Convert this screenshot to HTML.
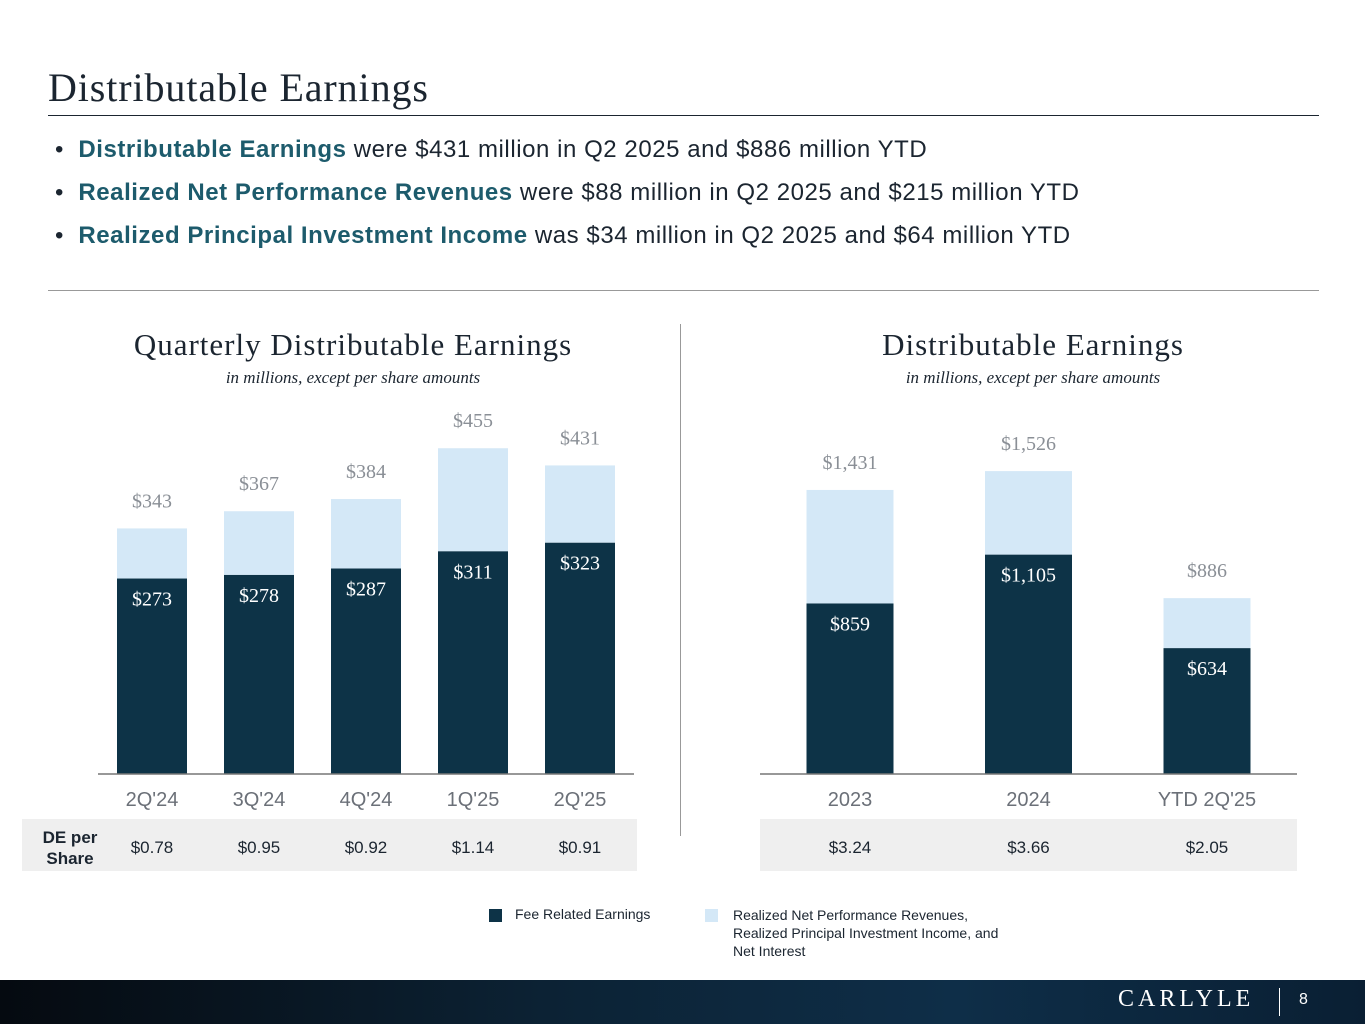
<!DOCTYPE html>
<html><head><meta charset="utf-8">
<style>
body{margin:0;width:1365px;height:1024px;background:#fff;position:relative;overflow:hidden;font-family:"Liberation Sans",sans-serif;}
.abs{position:absolute;}
.title{left:48px;top:64px;font-family:"Liberation Serif",serif;font-size:40px;letter-spacing:0.9px;color:#1b2530;}
.bul{left:55px;font-size:24px;letter-spacing:0.55px;color:#1b2530;}
.bul b{color:#1d5b6c;}
.ct{font-family:"Liberation Serif",serif;font-size:31px;letter-spacing:1px;color:#1b2530;text-align:center;width:600px;}
.sub{font-family:"Liberation Serif",serif;font-style:italic;font-size:17px;color:#1b2530;text-align:center;width:600px;}
</style></head><body>
<div class="abs title">Distributable Earnings</div>
<div class="abs" style="left:48px;top:115px;width:1271px;height:1px;background:#1b2530"></div>
<div class="abs bul" style="top:136px">• &nbsp;<b>Distributable Earnings</b> were $431 million in Q2 2025 and $886 million YTD</div>
<div class="abs bul" style="top:179px">• &nbsp;<b>Realized Net Performance Revenues</b> were $88 million in Q2 2025 and $215 million YTD</div>
<div class="abs bul" style="top:222px">• &nbsp;<b>Realized Principal Investment Income</b> was $34 million in Q2 2025 and $64 million YTD</div>
<div class="abs" style="left:48px;top:290px;width:1271px;height:1px;background:#999"></div>
<div class="abs" style="left:680px;top:324px;width:1px;height:512px;background:#999"></div>
<div class="abs ct" style="left:53px;top:327px">Quarterly Distributable Earnings</div>
<div class="abs sub" style="left:53px;top:368px">in millions, except per share amounts</div>
<div class="abs ct" style="left:733px;top:327px">Distributable Earnings</div>
<div class="abs sub" style="left:733px;top:368px">in millions, except per share amounts</div>
<div class="abs" style="left:22px;top:819px;width:615px;height:52px;background:#efefef"></div>
<div class="abs" style="left:760px;top:819px;width:537px;height:52px;background:#efefef"></div>
<div class="abs" style="left:30px;top:827px;width:80px;font-size:17px;font-weight:bold;text-align:center;line-height:21px;color:#1b2530">DE per Share</div>
<svg class="abs" style="left:0;top:0" width="1365" height="1024" id="chart"></svg>
<div class="abs" style="left:489px;top:909px;width:13px;height:13px;background:#0d3347"></div>
<div class="abs" style="left:515px;top:906px;font-size:14px;color:#1b2530">Fee Related Earnings</div>
<div class="abs" style="left:705px;top:909px;width:13px;height:13px;background:#d4e8f7"></div>
<div class="abs" style="left:733px;top:906px;font-size:14px;line-height:18px;color:#1b2530;width:300px">Realized Net Performance Revenues,<br>Realized Principal Investment Income, and<br>Net Interest</div>
<div class="abs" style="left:0;top:980px;width:1365px;height:44px;background:linear-gradient(90deg,#050a10,#0c2234 40%,#0e2e48 70%,#0a1f33)"></div>
<div class="abs" style="left:1118px;top:986px;font-family:'Liberation Serif',serif;font-size:24px;letter-spacing:4px;color:#fff">CARLYLE</div>
<div class="abs" style="left:1279px;top:988px;width:1px;height:28px;background:#fff"></div>
<div class="abs" style="left:1299px;top:991px;font-size:16px;color:#fff">8</div>
<script>
const qCats=["2Q'24","3Q'24","4Q'24","1Q'25","2Q'25"];
const qFre=[273,278,287,311,323];
const qTotal=[343,367,384,455,431];
const qDe=["$0.78","$0.95","$0.92","$1.14","$0.91"];
const yCats=["2023","2024","YTD 2Q'25"];
const yFre=[859,1105,634];
const yTotal=[1431,1526,886];
const yDe=["$3.24","$3.66","$2.05"];
const svg=document.getElementById('chart');const NS='http://www.w3.org/2000/svg';
function el(t,a,txt){const e=document.createElementNS(NS,t);for(const k in a)e.setAttribute(k,a[k]);if(txt!==undefined)e.textContent=txt;svg.appendChild(e);return e;}
const fmt=v=>'$'+v.toLocaleString('en-US');
function chart(cats,fre,tot,de,x0,step,bw,scale,ax0,ax1,pre){
 const base=774;const y=v=>base-v*scale;
 cats.forEach((c,i)=>{const cx=x0+i*step;
  let r=el('rect',{x:cx-bw/2,y:y(tot[i]),width:bw,height:(tot[i]-fre[i])*scale,fill:'#d4e8f7'});
  
  
  r=el('rect',{x:cx-bw/2,y:y(fre[i]),width:bw,height:fre[i]*scale,fill:'#0d3347'});
  
  
  let t=el('text',{x:cx,y:y(tot[i])-21,'text-anchor':'middle','font-family':'Liberation Serif,serif','font-size':20,fill:'#8a8f96'},fmt(tot[i]));
  
  
  t=el('text',{x:cx,y:y(fre[i])+27,'text-anchor':'middle','font-family':'Liberation Serif,serif','font-size':20,fill:'#fff'},fmt(fre[i]));
  
  
  t=el('text',{x:cx,y:806,'text-anchor':'middle','font-size':20,fill:'#6b7078'},c);
  
  
  t=el('text',{x:cx,y:853,'text-anchor':'middle','font-size':17,fill:'#1b2530'},de[i]);
  
  
 });
 const l=el('line',{x1:ax0,x2:ax1,y1:base,y2:base,stroke:'#777','stroke-width':1.5});
 
 
}
chart(qCats,qFre,qTotal,qDe,152,107,70,0.716,98,634,'quarterly');
chart(yCats,yFre,yTotal,yDe,850,178.5,87,0.1985,760,1297,'annual');
</script>
</body></html>
